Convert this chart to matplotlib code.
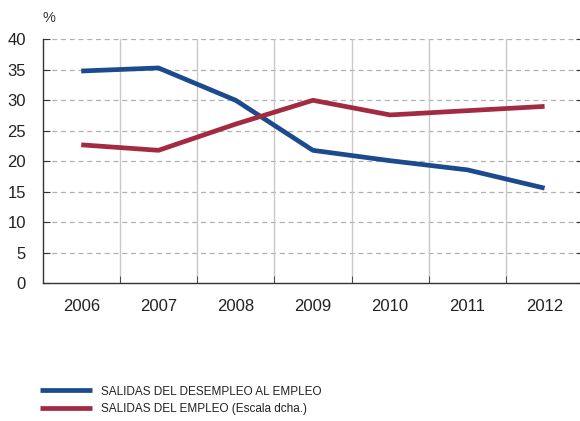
import matplotlib
matplotlib.use("Agg")
import matplotlib.pyplot as plt
from matplotlib import font_manager

years = ["2006", "2007", "2008", "2009", "2010", "2011", "2012"]
desempleo_empleo = [34.8, 35.3, 30.0, 21.8, 20.1, 18.6, 15.6]
empleo = [22.7, 21.8, 26.1, 30.0, 27.6, 28.3, 29.0]
yticks = [0, 5, 10, 15, 20, 25, 30, 35, 40]
labels = ["SALIDAS DEL DESEMPLEO AL EMPLEO", "SALIDAS DEL EMPLEO (Escala dcha.)"]

blue = "#1b4a8e"
red = "#a22a42"

names = {f.name for f in font_manager.fontManager.ttflist}
base = "Liberation Sans" if "Liberation Sans" in names else "DejaVu Sans"
narrow = "Liberation Sans Narrow" if "Liberation Sans Narrow" in names else base
plt.rcParams['font.family'] = [base, 'DejaVu Sans']

fig = plt.figure(figsize=(5.8, 4.21), dpi=100)
ax = fig.add_axes([0.0735, 0.327, 0.932, 0.5797])

x = list(range(len(years)))
ax.plot(x, desempleo_empleo, color=blue, lw=3.4, solid_capstyle='butt', label=labels[0])
ax.plot(x, empleo, color=red, lw=3.4, solid_capstyle='butt', label=labels[1])

ax.set_xlim(-0.5, len(years) - 0.5)
ax.set_ylim(0, 40)
ax.set_yticks(yticks)
ax.set_yticklabels([str(v) for v in yticks], fontsize=12, color="#222222")
ax.set_xticks(x)
ax.set_xticklabels(years, fontsize=12, color="#222222")
ax.set_xticks([i + 0.5 for i in x[:-1]], minor=True)

ax.tick_params(axis='x', which='major', length=0, pad=11)
ax.tick_params(axis='x', which='minor', direction='in', length=5, color='#333333')
ax.tick_params(axis='y', which='major', direction='in', length=5, color='#333333',
               right=True, pad=12)

for v in yticks[1:]:
    ax.axhline(v, color='#b0b0b0', lw=0.9, ls=(0, (4, 3)), zorder=0)
for v in [i + 0.5 for i in x[:-1]]:
    ax.axvline(v, color='#c8c8c8', lw=1.0, zorder=0)

for s in ['top', 'right']:
    ax.spines[s].set_visible(False)
for s in ['left', 'bottom']:
    ax.spines[s].set_color('#333333')
    ax.spines[s].set_linewidth(1.0)

fig.text(0.074, 0.958, "%", fontsize=10.5, color="#333333", ha='left', va='center')

leg = fig.legend(loc='upper left', bbox_to_anchor=(0.050, 0.1095), frameon=False,
                 handlelength=4.4, handletextpad=0.8, labelspacing=0.45,
                 prop={'family': [narrow, base], 'size': 8.5})
for t in leg.get_texts():
    t.set_color("#222222")

fig.savefig("out.png", dpi=100)
